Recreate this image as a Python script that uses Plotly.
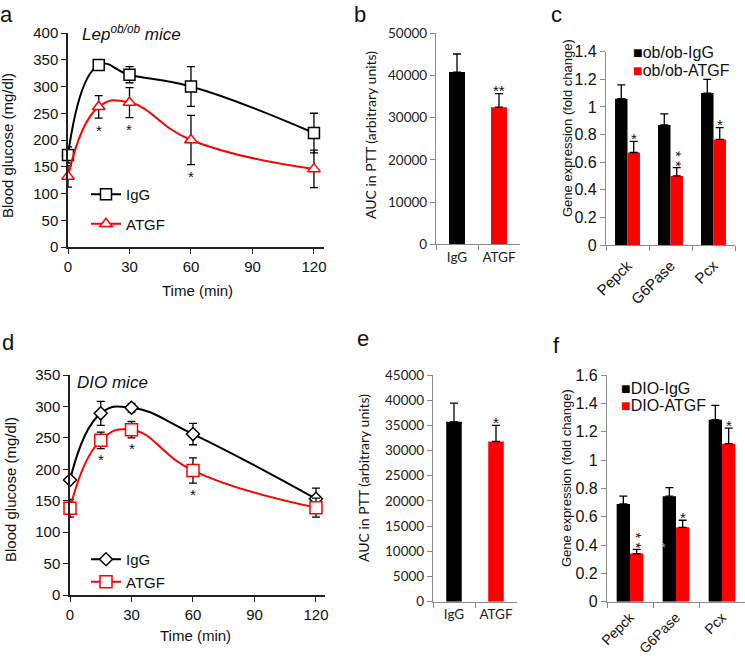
import plotly.graph_objects as go

W, H = 745, 662
FA = "Liberation Sans, Arial, sans-serif"
FC = "Lato, Carlito, sans-serif"
RED = "#FF0000"

# ---------------- data ----------------
time_pts = [0, 15, 30, 60, 120]
time_ticks = [0, 30, 60, 90, 120]

# panel a (Lep ob/ob mice, PTT)
a_igg = [172, 340, 322, 300, 213]
a_igg_err = [15, 8, 15, 37, 37]
a_atgf = [132, 262, 270, 200, 146]
a_atgf_err = [20, 21, 28, 46, 35]
a_star_idx = [1, 2, 3]

# panel b (AUC)
auc_groups = ["IgG", "ATGF"]
b_auc = [40800, 32500]
b_auc_err = [4300, 3200]

# panel c (gene expression, ob/ob)
genes = ["Pepck", "G6Pase", "Pcx"]
c_names = ["ob/ob-IgG", "ob/ob-ATGF"]
c_igg = [1.06, 0.87, 1.10]
c_igg_err = [0.10, 0.08, 0.10]
c_atgf = [0.67, 0.50, 0.765]
c_atgf_err = [0.08, 0.06, 0.085]
c_stars = ["*", "**", "*"]

# panel d (DIO mice, PTT)
d_igg = [183, 289, 298, 256, 153]
d_igg_err = [5, 19, 7, 17, 17]
d_atgf = [138, 246, 263, 198, 139]
d_atgf_err = [14, 13, 13, 20, 15]
d_star_idx = [1, 2, 3]

# panel e (AUC)
e_auc = [35700, 31800]
e_auc_err = [3700, 3200]

# panel f (gene expression, DIO)
f_names = ["DIO-IgG", "DIO-ATGF"]
f_igg = [0.69, 0.745, 1.285]
f_igg_err = [0.055, 0.06, 0.10]
f_atgf = [0.34, 0.525, 1.115]
f_atgf_err = [0.03, 0.05, 0.11]
f_stars = ["**", "*", "*"]

BARGAP = 0.42


def dx(p0, p1):
    return [p0 / W, p1 / W]


def dy(top, bottom):
    return [1 - bottom / H, 1 - top / H]


fig = go.Figure()

eb = dict(type="data", color="black", thickness=1.3, width=4)

# ---- panel a ----
fig.add_trace(go.Scatter(
    x=time_pts, y=a_igg, name="IgG", mode="lines+markers", legendgroup="a1",
    line=dict(color="black", width=2, shape="spline", smoothing=1.3),
    marker=dict(symbol="square", size=11, color="white", line=dict(color="black", width=1.5)),
    error_y=dict(array=a_igg_err, **eb), cliponaxis=False,
    xaxis="x", yaxis="y", legend="legend"))
fig.add_trace(go.Scatter(
    x=time_pts, y=a_atgf, name="ATGF", mode="lines+markers", legendgroup="a2",
    line=dict(color=RED, width=2, shape="spline", smoothing=1.3),
    marker=dict(symbol="triangle-up", size=11, color="white", line=dict(color=RED, width=1.5)),
    error_y=dict(array=a_atgf_err, **eb), cliponaxis=False,
    xaxis="x", yaxis="y", legend="legend"))

# ---- panel b ----
fig.add_trace(go.Bar(
    x=auc_groups, y=b_auc, width=0.38, marker=dict(color=["black", RED], line=dict(width=0)),
    error_y=dict(array=b_auc_err, arrayminus=[0, 0], symmetric=False, **eb),
    showlegend=False, xaxis="x2", yaxis="y2"))

# ---- panel c ----
fig.add_trace(go.Bar(
    x=genes, y=c_igg, name=c_names[0], marker=dict(color="black", line=dict(width=0)),
    error_y=dict(array=c_igg_err, arrayminus=[0] * 3, symmetric=False, **eb),
    showlegend=False, xaxis="x3", yaxis="y3"))
fig.add_trace(go.Bar(
    x=genes, y=c_atgf, name=c_names[1], marker=dict(color=RED, line=dict(width=0)),
    error_y=dict(array=c_atgf_err, arrayminus=[0] * 3, symmetric=False, **eb),
    showlegend=False, xaxis="x3", yaxis="y3"))

# ---- panel d ----
fig.add_trace(go.Scatter(
    x=time_pts, y=d_igg, name="IgG", mode="lines+markers",
    line=dict(color="black", width=2, shape="spline", smoothing=1.3),
    marker=dict(symbol="diamond", size=10, color="white", line=dict(color="black", width=1.5)),
    error_y=dict(array=d_igg_err, **eb), cliponaxis=False,
    xaxis="x4", yaxis="y4", legend="legend3"))
fig.add_trace(go.Scatter(
    x=time_pts, y=d_atgf, name="ATGF", mode="lines+markers",
    line=dict(color=RED, width=2, shape="spline", smoothing=1.3),
    marker=dict(symbol="square", size=12, color="white", line=dict(color=RED, width=1.5)),
    error_y=dict(array=d_atgf_err, **eb), cliponaxis=False,
    xaxis="x4", yaxis="y4", legend="legend3"))

# ---- panel e ----
fig.add_trace(go.Bar(
    x=auc_groups, y=e_auc, width=0.37, marker=dict(color=["black", RED], line=dict(width=0)),
    error_y=dict(array=e_auc_err, arrayminus=[0, 0], symmetric=False, **eb),
    showlegend=False, xaxis="x5", yaxis="y5"))

# ---- panel f ----
fig.add_trace(go.Bar(
    x=genes, y=f_igg, name=f_names[0], marker=dict(color="black", line=dict(width=0)),
    error_y=dict(array=f_igg_err, arrayminus=[0] * 3, symmetric=False, **eb),
    showlegend=False, xaxis="x6", yaxis="y6"))
fig.add_trace(go.Bar(
    x=genes, y=f_atgf, name=f_names[1], marker=dict(color=RED, line=dict(width=0)),
    error_y=dict(array=f_atgf_err, arrayminus=[0] * 3, symmetric=False, **eb),
    showlegend=False, xaxis="x6", yaxis="y6"))

# ---------------- axes ----------------
dark_axis = dict(showline=True, linecolor="#222", linewidth=1.5, ticks="outside", ticklen=5,
                 tickcolor="#222", tickwidth=1.3, showgrid=False, zeroline=False, automargin=False,
                 tickfont=dict(family=FA, size=15, color="#111"))
gray_axis = dict(showline=True, linecolor="#8a8a8a", linewidth=1.3, ticks="outside", ticklen=5,
                 tickcolor="#8a8a8a", tickwidth=1.2, showgrid=False, zeroline=False, automargin=False)
cfont = dict(family=FC, size=13.5, color="#222")

fig.update_layout(
    xaxis=dict(domain=dx(68, 324), range=[0, 124.9], tickvals=time_ticks, anchor="y", **dark_axis),
    yaxis=dict(domain=dy(33, 247), range=[0, 400], dtick=50, anchor="x", **dark_axis),
    xaxis2=dict(domain=dx(436, 520), type="category", range=[-0.5, 1.5], tickson="boundaries",
                anchor="y2", tickfont=cfont, **gray_axis),
    yaxis2=dict(domain=dy(33.3, 244.3), range=[0, 50000], dtick=10000, tickformat="d", anchor="x2",
                tickfont=cfont, **gray_axis),
    xaxis3=dict(domain=dx(606, 735), type="category", range=[-0.5, 2.5], tickson="boundaries",
                tickangle=-45, ticklabelstandoff=5, anchor="y3",
                tickfont=dict(family=FA, size=15, color="#111"), **gray_axis),
    yaxis3=dict(domain=dy(51.7, 245), range=[0, 1.4], dtick=0.2, anchor="x3",
                tickfont=dict(family=FA, size=16, color="#111"), **gray_axis),
    xaxis4=dict(domain=dx(70, 325), range=[0, 124.4], tickvals=time_ticks, anchor="y4", **dark_axis),
    yaxis4=dict(domain=dy(375, 595), range=[0, 350], dtick=50, anchor="x4", **dark_axis),
    xaxis5=dict(domain=dx(433, 517), type="category", range=[-0.5, 1.5], tickson="boundaries",
                anchor="y5", tickfont=cfont, **gray_axis),
    yaxis5=dict(domain=dy(375, 601.7), range=[0, 45000], dtick=5000, tickformat="d", anchor="x5",
                tickfont=cfont, **gray_axis),
    xaxis6=dict(domain=dx(607, 745), type="category", range=[-0.5, 2.5], tickson="boundaries",
                tickangle=-45, ticklabelstandoff=1, anchor="y6",
                tickfont=dict(family=FA, size=14, color="#111"), **gray_axis),
    yaxis6=dict(domain=dy(375, 601.7), range=[0, 1.6], dtick=0.2, anchor="x6",
                tickfont=dict(family=FA, size=16, color="#111"), **gray_axis),
)

leg_common = dict(xanchor="left", yanchor="top", bgcolor="rgba(0,0,0,0)", borderwidth=0,
                  itemwidth=30, font=dict(family=FA, size=15, color="#111"))
fig.update_layout(
    legend=dict(x=86 / W, y=1 - 178 / H, tracegroupgap=7, **leg_common),
    legend3=dict(x=86 / W, y=1 - 543 / H, tracegroupgap=0, **leg_common),
)

ann = []


def paper_text(text, x, y, size, family=FA, angle=0, xanchor="center", yanchor="middle", color="#111"):
    ann.append(dict(text=text, x=x / W, y=1 - y / H, xref="paper", yref="paper", showarrow=False,
                    textangle=angle, xanchor=xanchor, yanchor=yanchor,
                    font=dict(family=family, size=size, color=color)))


# panel letters
for lbl, px_, py_ in [("a", 7, 15), ("b", 360, 15), ("c", 556, 15),
                      ("d", 8, 342), ("e", 363, 338), ("f", 556, 345)]:
    paper_text(lbl, px_, py_, 22)

# axis titles
paper_text("Blood glucose (mg/dl)", 7, 146, 15, angle=-90)
paper_text("Time (min)", 197, 290, 15)
paper_text("AUC in PTT (arbitrary units)", 370, 135, 14, family=FC, angle=-90)
paper_text("Gene expression (fold change)", 568, 128, 13, angle=-90)
paper_text("Blood glucose (mg/dl)", 10, 490, 15, angle=-90)
paper_text("Time (min)", 195, 635, 15)
paper_text("AUC in PTT (arbitrary units)", 363, 478, 14, family=FC, angle=-90)
paper_text("Gene expression (fold change)", 566, 478, 13, angle=-90)

# panel subtitles
paper_text("<i>Lep<sup>ob/ob</sup> mice</i>", 80, 33, 17, xanchor="left")
paper_text("<i>DIO mice</i>", 75, 382, 17, xanchor="left")

# legends of the bar panels (square key + label)
for names, x0, rows in [(c_names, 631, (52, 70)), (f_names, 619, (388, 405))]:
    for nm, col, yy in zip(names, ["black", RED], rows):
        paper_text('<span style="color:%s">\u25A0</span>%s' % (col, nm), x0, yy, 16, xanchor="left")


def star(text, x, y, xr, yr, yshift, size=15, angle=0):
    ann.append(dict(text=text, x=x, y=y, xref=xr, yref=yr, showarrow=False, yshift=yshift,
                    textangle=angle, xanchor="center", yanchor="middle",
                    font=dict(family=FA, size=size, color="#111")))


# stars below ATGF error bars in line panels
for i in a_star_idx:
    star("*", time_pts[i], a_atgf[i] - a_atgf_err[i], "x", "y", -12)
for i in d_star_idx:
    star("*", time_pts[i], d_atgf[i] - d_atgf_err[i], "x4", "y4", -11)

# stars above ATGF bars
star("**", 1, b_auc[1] + b_auc_err[1], "x2", "y2", 3)
star("*", 1, e_auc[1] + e_auc_err[1], "x5", "y5", 3)

off = (1 - BARGAP) / 4
for stars, atgf, err, xr, yr in [(c_stars, c_atgf, c_atgf_err, "x3", "y3"),
                                  (f_stars, f_atgf, f_atgf_err, "x6", "y6")]:
    for i, s in enumerate(stars):
        top = atgf[i] + err[i]
        if len(s) == 1:
            star("*", i + off, top, xr, yr, 3)
        else:  # two stars stacked vertically
            star("* *", i + off, top, xr, yr, 9, angle=90)
# faint stray mark in panel f
star("*", 0.72, 0.41, "x6", "y6", -4, size=12)
ann[-1]["font"]["color"] = "#aaaaaa"

fig.update_layout(
    annotations=ann,
    width=W, height=H, autosize=False,
    margin=dict(l=0, r=0, t=0, b=0),
    paper_bgcolor="white", plot_bgcolor="white",
    barmode="group", bargap=BARGAP, bargroupgap=0,
    showlegend=True,
)

fig.write_html("out.html", config={"displayModeBar": False},
               post_script="document.body.style.margin='0';")
